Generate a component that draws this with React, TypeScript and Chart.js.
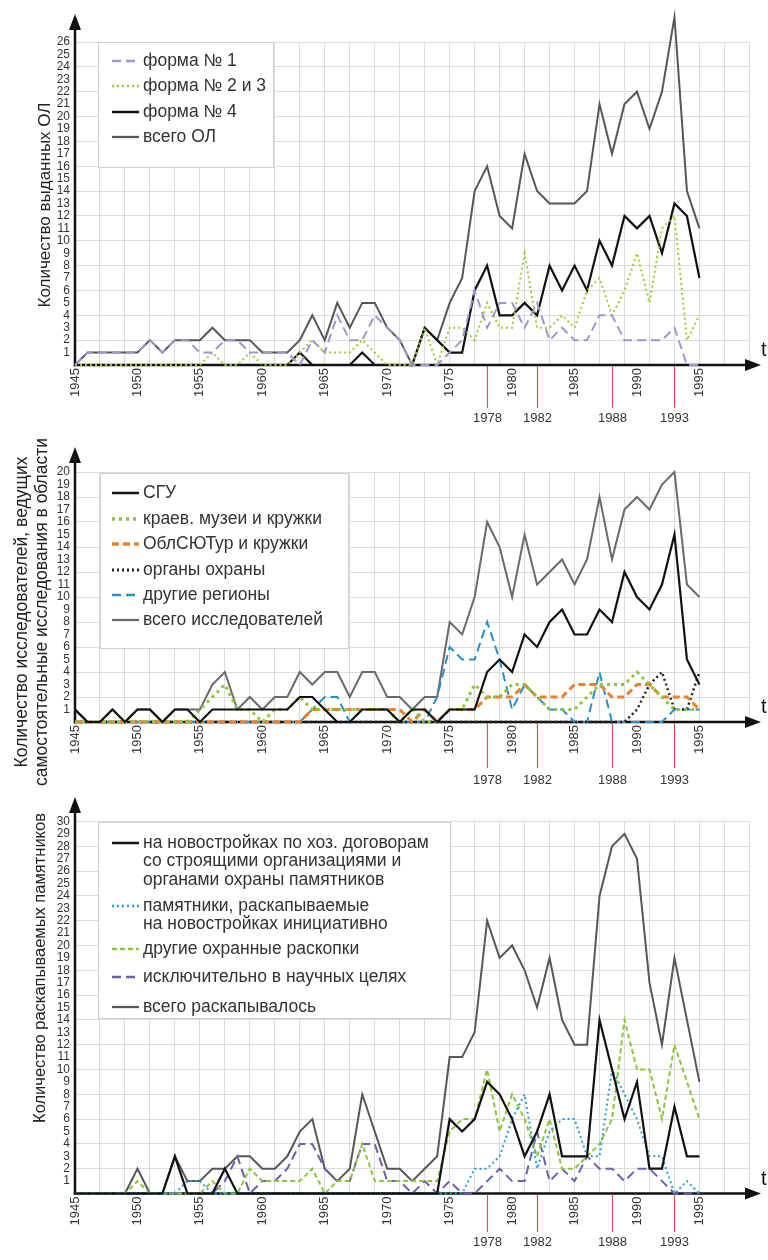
import React, { useEffect, useRef } from "react";
import { Chart, registerables } from "chart.js";

Chart.register(...registerables);

const FONT = "'Liberation Sans', Arial, Helvetica, sans-serif";

// ---------- categories ----------
const years = [
  1945, 1946, 1947, 1948, 1949, 1950, 1951, 1952, 1953, 1954,
  1955, 1956, 1957, 1958, 1959, 1960, 1961, 1962, 1963, 1964,
  1965, 1966, 1967, 1968, 1969, 1970, 1971, 1972, 1973, 1974,
  1975, 1976, 1977, 1978, 1979, 1980, 1981, 1982, 1983, 1984,
  1985, 1986, 1987, 1988, 1989, 1990, 1991, 1992, 1993, 1994,
  1995,
];
const markedYears = [1978, 1982, 1988, 1993];

// ---------- panel 1: issued open sheets ----------
const forma1 = [
  0, 1, 1, 1, 1, 1, 2, 1, 2, 2,
  1, 1, 2, 2, 1, 1, 1, 1, 0, 2,
  1, 4, 2, 2, 4, 3, 2, 0, 0, 0,
  1, 2, 6, 3, 5, 5, 3, 5, 2, 3,
  2, 2, 4, 4, 2, 2, 2, 2, 3, 0,
  0,
];
const forma23 = [
  0, 0, 0, 0, 0, 0, 0, 0, 0, 0,
  0, 1, 0, 0, 1, 0, 0, 0, 1, 2,
  1, 1, 1, 2, 1, 0, 0, 0, 3, 0,
  3, 3, 2, 5, 3, 3, 9, 3, 3, 4,
  3, 6, 7, 4, 6, 9, 5, 11, 12, 2,
  4,
];
const forma4 = [
  0, 0, 0, 0, 0, 0, 0, 0, 0, 0,
  0, 0, 0, 0, 0, 0, 0, 0, 1, 0,
  0, 0, 0, 1, 0, 0, 0, 0, 3, 2,
  1, 1, 6, 8, 4, 4, 5, 4, 8, 6,
  8, 6, 10, 8, 12, 11, 12, 9, 13, 12,
  7,
];
const totalOL = [
  0, 1, 1, 1, 1, 1, 2, 1, 2, 2,
  2, 3, 2, 2, 2, 1, 1, 1, 2, 4,
  2, 5, 3, 5, 5, 3, 2, 0, 3, 2,
  5, 7, 14, 16, 12, 11, 17, 14, 13, 13,
  13, 14, 21, 17, 21, 22, 19, 22, 28, 14,
  11,
];

// ---------- panel 2: researchers ----------
const sgu = [
  1, 0, 0, 1, 0, 1, 1, 0, 1, 1,
  0, 1, 1, 1, 1, 1, 1, 1, 2, 2,
  1, 0, 0, 1, 1, 1, 0, 1, 1, 0,
  1, 1, 1, 4, 5, 4, 7, 6, 8, 9,
  7, 7, 9, 8, 12, 10, 9, 11, 15, 5,
  3,
];
const museums = [
  0, 0, 0, 0, 0, 0, 0, 0, 0, 0,
  1, 2, 3, 1, 1, 0, 1, 1, 2, 1,
  1, 1, 1, 1, 1, 1, 0, 1, 0, 0,
  1, 1, 3, 2, 2, 3, 3, 2, 1, 1,
  1, 2, 3, 3, 3, 4, 3, 2, 1, 1,
  1,
];
const oblsyutur = [
  0, 0, 0, 0, 0, 0, 0, 0, 0, 0,
  0, 0, 0, 0, 0, 0, 0, 0, 0, 1,
  1, 1, 1, 1, 1, 1, 1, 0, 1, 0,
  1, 1, 1, 2, 2, 2, 3, 2, 2, 2,
  3, 3, 3, 2, 2, 3, 3, 2, 2, 2,
  1,
];
const protection = [
  0, 0, 0, 0, 0, 0, 0, 0, 0, 0,
  0, 0, 0, 0, 0, 0, 0, 0, 0, 0,
  0, 0, 0, 0, 0, 0, 0, 0, 0, 0,
  0, 0, 0, 0, 0, 0, 0, 0, 0, 0,
  0, 0, 0, 0, 0, 1, 3, 4, 1, 1,
  4,
];
const otherRegions = [
  0, 0, 0, 0, 0, 0, 0, 0, 0, 0,
  0, 0, 0, 0, 0, 0, 0, 0, 0, 1,
  2, 2, 0, 1, 1, 1, 0, 0, 0, 2,
  6, 5, 5, 8, 5, 1, 3, 2, 1, 1,
  0, 0, 4, 0, 0, 0, 0, 0, 1, 1,
  1,
];
const totalResearchers = [
  1, 0, 0, 1, 0, 1, 1, 0, 1, 1,
  1, 3, 4, 1, 2, 1, 2, 2, 4, 3,
  4, 4, 2, 4, 4, 2, 2, 1, 2, 2,
  8, 7, 10, 16, 14, 10, 15, 11, 12, 13,
  11, 13, 18, 13, 17, 18, 17, 19, 20, 11,
  10,
];

// ---------- panel 3: excavated monuments ----------
const contracts = [
  0, 0, 0, 0, 0, 0, 0, 0, 3, 0,
  0, 0, 2, 0, 0, 0, 0, 0, 0, 0,
  0, 0, 0, 0, 0, 0, 0, 0, 0, 0,
  6, 5, 6, 9, 8, 6, 3, 5, 8, 3,
  3, 3, 14, 10, 6, 9, 2, 2, 7, 3,
  3,
];
const initiative = [
  0, 0, 0, 0, 0, 0, 0, 0, 0, 1,
  1, 0, 0, 0, 0, 0, 0, 0, 0, 0,
  0, 0, 0, 0, 0, 0, 0, 0, 0, 0,
  0, 0, 2, 2, 3, 6, 8, 2, 5, 6,
  6, 3, 3, 10, 8, 6, 3, 3, 0, 1,
  0,
];
const otherRescue = [
  0, 0, 0, 0, 0, 1, 0, 0, 0, 0,
  0, 1, 0, 0, 2, 1, 1, 1, 1, 2,
  0, 1, 1, 4, 1, 1, 1, 1, 1, 1,
  5, 6, 6, 10, 5, 8, 6, 3, 6, 2,
  2, 3, 4, 6, 14, 10, 10, 6, 12, 9,
  6,
];
const scientific = [
  0, 0, 0, 0, 0, 0, 0, 0, 0, 0,
  0, 0, 1, 3, 0, 1, 1, 2, 4, 4,
  2, 1, 1, 4, 4, 1, 1, 0, 1, 0,
  1, 0, 0, 1, 2, 1, 1, 5, 1, 2,
  1, 3, 2, 2, 1, 2, 2, 1, 0, 0,
  0,
];
const totalExcavated = [
  0, 0, 0, 0, 0, 2, 0, 0, 3, 1,
  1, 2, 2, 3, 3, 2, 2, 3, 5, 6,
  2, 1, 2, 8, 5, 2, 2, 1, 2, 3,
  11, 11, 13, 22, 19, 20, 18, 15, 19, 14,
  12, 12, 24, 28, 29, 27, 17, 12, 19, 14,
  9,
];

// ---------- styles & layout ----------
type Series = { label: string[]; values: number[]; color: string; dash: number[]; width: number };

type Panel = {
  top: number;
  height: number;
  yMax: number;
  chartTop: number; // page y of yMax
  chartBottom: number; // page y of 0
  arrowTipY: number;
  redEnd: number;
  redLabelY: number;
  title: string[];
  titleX: number[];
  titleCY: number;
  titleSize: number;
  legendBox: [number, number, number, number];
  legendRows: number[];
  series: Series[];
};

const CHART_LEFT = 75;
const CHART_RIGHT = 751;
const ARROW_X = 761;
const X_AXIS_H = 35;
const LEGEND_FONT = 17.5;

const panels: Panel[] = [
  {
    top: 0,
    height: 430,
    yMax: 26,
    chartTop: 42,
    chartBottom: 365,
    arrowTipY: 14,
    redEnd: 408,
    redLabelY: 418,
    title: ["Количество выданных ОЛ"],
    titleX: [45],
    titleCY: 205,
    titleSize: 17,
    legendBox: [98, 42, 175, 125],
    legendRows: [61, 86, 112, 137],
    series: [
      { label: ["форма № 1"], values: forma1, color: "#9d98cb", dash: [9, 5], width: 2 },
      { label: ["форма № 2 и 3"], values: forma23, color: "#9acd32", dash: [2, 3], width: 2 },
      { label: ["форма № 4"], values: forma4, color: "#111111", dash: [], width: 2.2 },
      { label: ["всего ОЛ"], values: totalOL, color: "#575757", dash: [], width: 2 },
    ],
  },
  {
    top: 430,
    height: 360,
    yMax: 20,
    chartTop: 472,
    chartBottom: 722,
    arrowTipY: 447,
    redEnd: 768,
    redLabelY: 780,
    title: ["Количество исследователей, ведущих", "самостоятельные исследования в области"],
    titleX: [22, 42],
    titleCY: 612,
    titleSize: 17.5,
    legendBox: [100, 473, 248, 175],
    legendRows: [493, 519, 544, 570, 595, 620],
    series: [
      { label: ["СГУ"], values: sgu, color: "#111111", dash: [], width: 2.2 },
      { label: ["краев. музеи и кружки"], values: museums, color: "#8cc63e", dash: [3, 4], width: 3 },
      { label: ["ОблСЮТур и кружки"], values: oblsyutur, color: "#e8822e", dash: [7, 4], width: 3 },
      { label: ["органы охраны"], values: protection, color: "#222222", dash: [2, 3], width: 2.5 },
      { label: ["другие регионы"], values: otherRegions, color: "#2a8fc7", dash: [9, 5], width: 2 },
      { label: ["всего исследователей"], values: totalResearchers, color: "#6a6a6a", dash: [], width: 2 },
    ],
  },
  {
    top: 790,
    height: 470,
    yMax: 30,
    chartTop: 821.5,
    chartBottom: 1193.5,
    arrowTipY: 797,
    redEnd: 1232,
    redLabelY: 1242,
    title: ["Количество раскапываемых памятников"],
    titleX: [40],
    titleCY: 968,
    titleSize: 16.5,
    legendBox: [98, 822, 352, 196],
    legendRows: [843, 906, 949, 977, 1007],
    series: [
      {
        label: ["на новостройках по хоз. договорам", "со строящими организациями и", "органами охраны памятников"],
        values: contracts,
        color: "#111111",
        dash: [],
        width: 2.2,
      },
      {
        label: ["памятники, раскапываемые", "на новостройках инициативно"],
        values: initiative,
        color: "#2a9fd6",
        dash: [2, 3],
        width: 2,
      },
      { label: ["другие охранные раскопки"], values: otherRescue, color: "#8cc63e", dash: [5, 3], width: 2 },
      { label: ["исключительно в научных целях"], values: scientific, color: "#6b62ad", dash: [9, 5], width: 2 },
      { label: ["всего раскапывалось"], values: totalExcavated, color: "#575757", dash: [], width: 2 },
    ],
  },
];

function makeDecor(p: Panel) {
  const cy = (pageY: number) => pageY - p.top;
  return {
    id: "decor",
    beforeDatasetsDraw(chart: any) {
      const { ctx, chartArea } = chart;
      const ax = chartArea.left;
      const ay = chartArea.bottom;
      const tip = cy(p.arrowTipY);
      ctx.save();
      ctx.strokeStyle = "#111";
      ctx.fillStyle = "#111";
      ctx.lineWidth = 2.5;
      ctx.setLineDash([]);
      ctx.beginPath();
      ctx.moveTo(ax, ay + 1.2);
      ctx.lineTo(ax, tip + 12);
      ctx.stroke();
      ctx.beginPath();
      ctx.moveTo(ax, tip);
      ctx.lineTo(ax - 6, tip + 16);
      ctx.lineTo(ax + 6, tip + 16);
      ctx.closePath();
      ctx.fill();
      ctx.beginPath();
      ctx.moveTo(ax - 1.2, ay);
      ctx.lineTo(ARROW_X - 12, ay);
      ctx.stroke();
      ctx.beginPath();
      ctx.moveTo(ARROW_X, ay);
      ctx.lineTo(ARROW_X - 16, ay - 6);
      ctx.lineTo(ARROW_X - 16, ay + 6);
      ctx.closePath();
      ctx.fill();
      ctx.restore();
    },
    afterDraw(chart: any) {
      const { ctx, chartArea, scales } = chart;
      const ay = chartArea.bottom;
      ctx.save();
      // t label
      ctx.fillStyle = "#111";
      ctx.font = `20px ${FONT}`;
      ctx.textAlign = "left";
      ctx.textBaseline = "alphabetic";
      ctx.fillText("t", 761, ay - 9);

      // marked years
      ctx.strokeStyle = "#d05656";
      ctx.lineWidth = 1.2;
      ctx.font = `13px ${FONT}`;
      ctx.textAlign = "center";
      ctx.textBaseline = "middle";
      markedYears.forEach((yr) => {
        const x = Math.round(scales.x.getPixelForValue(yr)) + 0.5;
        ctx.beginPath();
        ctx.moveTo(x, ay + 1);
        ctx.lineTo(x, cy(p.redEnd));
        ctx.stroke();
        ctx.fillStyle = "#333";
        ctx.fillText(String(yr), x, cy(p.redLabelY));
      });

      // y title
      ctx.fillStyle = "#222";
      ctx.font = `${p.titleSize}px ${FONT}`;
      p.title.forEach((line, i) => {
        ctx.save();
        ctx.translate(p.titleX[i], cy(p.titleCY));
        ctx.rotate(-Math.PI / 2);
        ctx.textAlign = "center";
        ctx.textBaseline = "middle";
        ctx.fillText(line, 0, 0);
        ctx.restore();
      });

      // legend
      const [bx, by, bw, bh] = p.legendBox;
      ctx.fillStyle = "#fff";
      ctx.fillRect(bx, cy(by), bw, bh);
      ctx.strokeStyle = "#cfcfcf";
      ctx.lineWidth = 1;
      ctx.strokeRect(bx + 0.5, cy(by) + 0.5, bw, bh);
      ctx.font = `${LEGEND_FONT}px ${FONT}`;
      ctx.textAlign = "left";
      ctx.textBaseline = "middle";
      p.series.forEach((s, i) => {
        const ry = cy(p.legendRows[i]);
        ctx.strokeStyle = s.color;
        ctx.lineWidth = s.width + 0.3;
        ctx.setLineDash(s.dash);
        ctx.beginPath();
        ctx.moveTo(112, ry);
        ctx.lineTo(139, ry);
        ctx.stroke();
        ctx.setLineDash([]);
        ctx.fillStyle = "#333";
        s.label.forEach((line, j) => {
          ctx.fillText(line, 143, ry + j * 18.5);
        });
      });
      ctx.restore();
    },
  };
}

function PanelChart({ p }: { p: Panel }) {
  const ref = useRef<HTMLCanvasElement | null>(null);
  useEffect(() => {
    if (!ref.current) return;
    const padTop = p.chartTop - p.top;
    const padBottom = p.top + p.height - p.chartBottom - X_AXIS_H;
    const chart = new Chart(ref.current, {
      type: "line",
      data: {
        datasets: p.series.map((s) => ({
          label: s.label.join(" "),
          data: years.map((x, i) => ({ x, y: s.values[i] })),
          borderColor: s.color,
          backgroundColor: s.color,
          borderWidth: s.width,
          borderDash: s.dash,
          pointRadius: 0,
          tension: 0,
          fill: false,
          clip: false,
        })),
      },
      options: {
        responsive: false,
        animation: false,
        layout: { padding: { left: 0, right: 768 - CHART_RIGHT, top: padTop, bottom: padBottom } },
        plugins: { legend: { display: false }, tooltip: { enabled: false } },
        scales: {
          x: {
            type: "linear",
            min: 1945,
            max: 1999,
            afterFit: (s: any) => {
              s.height = X_AXIS_H;
            },
            border: { display: false },
            grid: {
              drawTicks: false,
              lineWidth: 1,
              color: (ctx: any) =>
                ctx.tick && Math.round(ctx.tick.value) % 2 === 1 ? "#dcdcdc" : "rgba(0,0,0,0)",
            },
            ticks: {
              stepSize: 1,
              autoSkip: false,
              maxRotation: 90,
              minRotation: 90,
              padding: 3,
              color: "#333",
              font: { size: 13, family: FONT },
              callback: (v: any) => {
                const n = Math.round(Number(v));
                return n % 5 === 0 && n <= 1995 ? String(n) : "";
              },
            },
          },
          y: {
            min: 0,
            max: p.yMax,
            afterFit: (s: any) => {
              s.width = CHART_LEFT;
            },
            border: { display: false },
            grid: {
              drawTicks: false,
              lineWidth: 1,
              color: (ctx: any) =>
                ctx.tick && ctx.tick.value > 0 && Math.round(ctx.tick.value) % 2 === 0
                  ? "#dcdcdc"
                  : "rgba(0,0,0,0)",
            },
            ticks: {
              stepSize: 1,
              autoSkip: false,
              padding: 5,
              color: "#333",
              font: { size: 12, family: FONT },
              callback: (v: any) => (Number(v) === 0 ? "" : String(v)),
            },
          },
        },
      },
      plugins: [makeDecor(p)],
    } as any);
    return () => chart.destroy();
  }, [p]);
  return (
    <canvas
      ref={ref}
      width={768}
      height={p.height}
      style={{ position: "absolute", left: 0, top: p.top, display: "block" }}
    />
  );
}

export default function App() {
  return (
    <div style={{ position: "absolute", left: 0, top: 0, width: 768, height: 1260, background: "#fff", overflow: "hidden" }}>
      {panels.map((p, i) => (
        <PanelChart key={i} p={p} />
      ))}
    </div>
  );
}
